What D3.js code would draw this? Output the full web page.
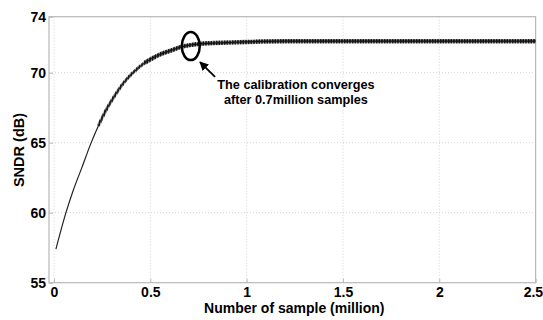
<!DOCTYPE html>
<html>
<head>
<meta charset="utf-8">
<script src="https://cdn.jsdelivr.net/npm/d3@7"></script>
<style>
  body { margin: 0; background: #fff; }
  svg { display: block; font-family: "Liberation Sans", Arial, sans-serif; }
</style>
</head>
<body>
<div id="chart"></div>
<script>
// samples (million) and SNDR (dB)
const samples = [0.01, 0.062, 0.1, 0.144, 0.19, 0.23, 0.265, 0.317, 0.36, 0.41, 0.47, 0.55, 0.61, 0.66, 0.72, 0.8, 0.9, 1.0, 1.2, 1.5, 2.0, 2.5];
const sndr = [57.4, 60.0, 61.6, 63.2, 64.9, 66.2, 67.2, 68.4, 69.25, 70.0, 70.7, 71.3, 71.6, 71.85, 72.0, 72.1, 72.15, 72.2, 72.25, 72.25, 72.25, 72.25];
const xTicks = [0, 0.5, 1, 1.5, 2, 2.5];
const yTicks = [55, 60, 65, 70, 74];
const yGrid = [60, 65, 70];
const note = ["The calibration converges", "after 0.7million samples"];

const W = 543, H = 320;
const pLeft = 49, pRight = 535.6, pTop = 16.7, pBottom = 282.7;

const svg = d3.select("#chart").append("svg")
  .attr("width", W)
  .attr("height", H);

const x = d3.scaleLinear().domain([-0.026, 2.5]).range([pLeft, pRight]);
const y = d3.scaleLinear().domain([55, 74]).range([pBottom, pTop]);

// hatch used to give the trace its noisy look
const defs = svg.append("defs");
defs.append("pattern")
  .attr("id", "hatch")
  .attr("patternUnits", "userSpaceOnUse")
  .attr("width", 1.6).attr("height", 10)
  .append("rect")
  .attr("width", 1).attr("height", 10)
  .attr("fill", "#111");
defs.append("marker")
  .attr("id", "arrow")
  .attr("viewBox", "0 0 10 10")
  .attr("refX", 9).attr("refY", 5)
  .attr("markerWidth", 5).attr("markerHeight", 5)
  .attr("orient", "auto")
  .append("path")
  .attr("d", "M0,0L10,5L0,10z")
  .attr("fill", "#000");

// grid
svg.append("g").selectAll("line")
  .data(xTicks.slice(0, -1))
  .enter().append("line")
  .attr("x1", d => x(d)).attr("x2", d => x(d))
  .attr("y1", pTop).attr("y2", pBottom)
  .attr("stroke", "#c8c8c8").attr("stroke-width", 0.8)
  .attr("stroke-dasharray", "1,2");
svg.append("g").selectAll("line")
  .data(yGrid)
  .enter().append("line")
  .attr("x1", pLeft).attr("x2", pRight)
  .attr("y1", d => y(d)).attr("y2", d => y(d))
  .attr("stroke", "#c8c8c8").attr("stroke-width", 0.8)
  .attr("stroke-dasharray", "1,2");

// box
svg.append("rect")
  .attr("x", pLeft).attr("y", pTop)
  .attr("width", pRight - pLeft).attr("height", pBottom - pTop)
  .attr("fill", "none")
  .attr("stroke", "#b8b8b8").attr("stroke-width", 1.2);

// axes
const xAxis = svg.append("g")
  .attr("transform", "translate(0," + pBottom + ")")
  .call(d3.axisBottom(x).tickValues(xTicks).tickFormat(d3.format("")).tickSize(-4).tickPadding(4));
const yAxis = svg.append("g")
  .attr("transform", "translate(" + pLeft + ",0)")
  .call(d3.axisLeft(y).tickValues(yTicks).tickSize(-4).tickPadding(3));
[xAxis, yAxis].forEach(g => {
  g.select(".domain").remove();
  g.selectAll(".tick line").attr("stroke", "#b8b8b8");
  g.selectAll("text")
    .attr("fill", "#000")
    .style("font-size", "14px")
    .style("font-weight", "bold")
    .style("font-family", "'Liberation Sans', Arial, sans-serif");
});
// last x label sits against the right edge
xAxis.selectAll(".tick text")
  .filter(d => d === 2.5)
  .attr("text-anchor", "end")
  .attr("x", 7);

// trace
const pts = samples.map((s, i) => [s, sndr[i]]);
const line = d3.line().x(d => x(d[0])).y(d => y(d[1])).curve(d3.curveMonotoneX);
svg.append("path")
  .attr("d", line(pts))
  .attr("fill", "none")
  .attr("stroke", "#222").attr("stroke-width", 1.2);
svg.append("path")
  .attr("d", line(pts.filter(d => d[0] >= 0.23)))
  .attr("fill", "none")
  .attr("stroke", "url(#hatch)").attr("stroke-width", 3.2);
svg.append("path")
  .attr("d", line(pts.filter(d => d[0] >= 0.47)))
  .attr("fill", "none")
  .attr("stroke", "url(#hatch)").attr("stroke-width", 4.5);

// annotation
svg.append("ellipse")
  .attr("cx", x(0.71)).attr("cy", y(71.9))
  .attr("rx", 9).attr("ry", 14)
  .attr("fill", "none")
  .attr("stroke", "#000").attr("stroke-width", 2.5);
svg.append("line")
  .attr("x1", x(0.836)).attr("y1", y(69.7))
  .attr("x2", x(0.758)).attr("y2", y(70.76))
  .attr("stroke", "#000").attr("stroke-width", 1.8)
  .attr("marker-end", "url(#arrow)");
svg.append("g").selectAll("text")
  .data(note)
  .enter().append("text")
  .attr("x", x(1.256))
  .attr("y", (d, i) => 89 + i * 15)
  .attr("text-anchor", "middle")
  .style("font-size", "12.7px")
  .style("font-weight", "bold")
  .text(d => d);

// labels
svg.append("text")
  .attr("x", (pLeft + pRight) / 2 + 2)
  .attr("y", 313)
  .attr("text-anchor", "middle")
  .style("font-size", "14px")
  .style("font-weight", "bold")
  .text("Number of sample (million)");
svg.append("text")
  .attr("transform", "translate(24,150) rotate(-90)")
  .attr("text-anchor", "middle")
  .style("font-size", "14.5px")
  .style("font-weight", "bold")
  .text("SNDR (dB)");
</script>
</body>
</html>
